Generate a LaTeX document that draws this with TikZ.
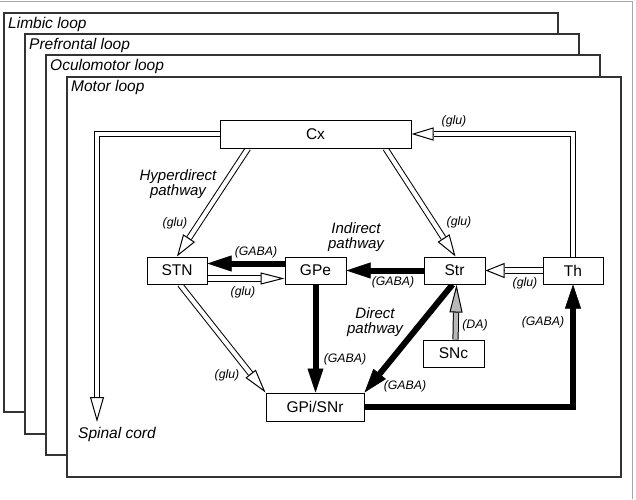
\documentclass[tikz,border=0pt]{standalone}
\usepackage{fontspec}
\setmainfont{Liberation Sans}
\usetikzlibrary{arrows.meta,calc}
\pgfdeclarelayer{frames}
\pgfdeclarelayer{links}
\pgfsetlayers{frames,links,main}
\tikzset{
  frame/.style={draw=black!80, line width=1.2pt, fill=white},
  box/.style={draw, line width=1pt, fill=white, inner sep=0pt, minimum height=27pt,
    font=\fontsize{15.5}{16}\selectfont},
  looplbl/.style={anchor=west, inner sep=0pt, font=\fontsize{15.5}{16}\selectfont\itshape},
  lbl/.style={inner sep=0pt, font=\fontsize{12.3}{13}\selectfont\itshape},
  pwy/.style={inner sep=0pt, align=center, font=\fontsize{15}{15.5}\selectfont\itshape},
  dblline/.style={line width=1pt, double distance=4.2pt, line join=miter},
  blk/.style={line width=6pt, line join=miter, -{Triangle[length=24pt,width=16pt,line width=0.5pt]}},
}
\newcommand\dblarrow[5][white]{%
  \draw[dblline, double=#1] (#2) -- ($(#3)!#4!(#2)$);
  \draw[line width=1pt, -{Triangle[length=#4,width=#5,fill=#1]}] ($(#3)!#4!(#2)$) -- (#3);
}
\begin{document}
\begin{tikzpicture}[x=1pt,y=-1pt]
\useasboundingbox (0,0) rectangle (636,499);
\begin{pgfonlayer}{frames}
\draw[black!35, line width=0.8pt] (0,1) -- (632,1) -- (632,499);
\draw[frame] (4,13) rectangle (558,412);
\draw[frame] (25,34) rectangle (579,434);
\draw[frame] (46,55) rectangle (600,455);
\draw[frame] (67,77) rectangle (621,477);
\end{pgfonlayer}
\node[looplbl] (llimbic) at (8,24) {Limbic loop};
\node[looplbl] (lpref) at (29,45) {Prefrontal loop};
\node[looplbl] (locul) at (50,66) {Oculomotor loop};
\node[looplbl] (lmotor) at (71,87) {Motor loop};

\node[box, minimum width=191pt, minimum height=28pt] (Cx) at (315.5,134) {Cx};
\node[box, minimum width=60pt] (STN) at (177,270.5) {STN};
\node[box, minimum width=61pt] (GPe) at (315.5,270.5) {GPe};
\node[box, minimum width=61pt] (Str) at (454.5,270.5) {Str};
\node[box, minimum width=60pt] (Th) at (573,270.5) {Th};
\node[box, minimum width=61pt] (SNc) at (453.5,353.5) {SNc};
\node[box, minimum width=98pt, minimum height=28pt] (GPi) at (315,407) {GPi/SNr};

\coordinate (spinal) at (97,422);
\coordinate (hyp) at ([xshift=-67.5pt]Cx.south);
\coordinate (ind) at ([xshift=70pt]Cx.south);
\coordinate (strtop) at ([xshift=1pt]Str.north);
\coordinate (a1) at ([yshift=-8pt]STN.east);
\coordinate (a2) at ([yshift=-8pt]GPe.west);
\coordinate (b1) at ([xshift=3pt]STN.south);
\coordinate (c1) at ([xshift=2pt]SNc.north);
\coordinate (c2) at ([xshift=2pt]Str.south);

\begin{pgfonlayer}{links}
% double (glutamatergic) arrows
\draw[dblline, double=white] (Cx.west) -| ([yshift=25pt]spinal);
\draw[line width=1pt, -{Triangle[length=25pt,width=14pt,fill=white]}] ([yshift=25pt]spinal) -- (spinal);
\draw[dblline, double=white] (Th.north) |- ([xshift=22pt]Cx.east);
\draw[line width=1pt, -{Triangle[length=22pt,width=13pt,fill=white]}] ([xshift=22pt]Cx.east) -- (Cx.east);
\dblarrow{hyp}{STN.north}{22pt}{14pt}
\dblarrow{ind}{strtop}{22pt}{14pt}
\dblarrow{Th.west}{Str.east}{19pt}{15pt}
\dblarrow{a1}{a2}{24pt}{12pt}
\dblarrow{b1}{GPi.north west}{24pt}{13pt}
\dblarrow[black!28]{c1}{c2}{28pt}{13pt}
% GABAergic arrows
\draw[blk] ([yshift=7pt]GPe.west) -- ([yshift=7pt]STN.east);
\draw[blk] (Str.west) -- (GPe.east);
\draw[blk] (GPe.south) -- (GPe.south |- GPi.north);
\draw[blk] ([xshift=-2pt]Str.south) -- (GPi.north east);
\draw[blk] (GPi.east) -| (Th.south);
\end{pgfonlayer}

\node[pwy] (thyp) at (178,184) {Hyperdirect\\pathway};
\node[pwy] (tind) at (356,237) {Indirect\\pathway};
\node[pwy] (tdir) at (375,322) {Direct\\pathway};
\node[lbl] (g1) at (175,223) {(glu)};
\node[lbl] (g2) at (256,252.5) {(GABA)};
\node[lbl] (g3) at (243,292.5) {(glu)};
\node[lbl] (g4) at (393,282) {(GABA)};
\node[lbl] (g5) at (459,222) {(glu)};
\node[lbl] (g6) at (454,121) {(glu)};
\node[lbl] (g7) at (525,283) {(glu)};
\node[lbl] (g8) at (475,325) {(DA)};
\node[lbl] (g9) at (345,359) {(GABA)};
\node[lbl] (g10) at (405,386) {(GABA)};
\node[lbl] (g11) at (543,322) {(GABA)};
\node[lbl] (g12) at (227,375) {(glu)};
\node[inner sep=0pt, font=\fontsize{15.5}{16}\selectfont\itshape] (tsc) at (117,434.5) {Spinal cord};
\end{tikzpicture}
\end{document}
